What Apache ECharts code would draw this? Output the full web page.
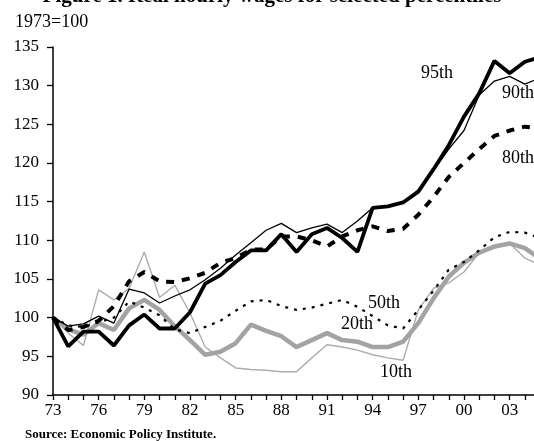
<!DOCTYPE html>
<html>
<head>
<meta charset="utf-8">
<script src="https://cdn.jsdelivr.net/npm/echarts@6/dist/echarts.min.js"></script>
<style>html,body{margin:0;padding:0;background:#fff;}#c{width:534px;height:441px;}</style>
</head>
<body>
<div id="c"></div>
<script>
var years = [1973,1974,1975,1976,1977,1978,1979,1980,1981,1982,1983,1984,1985,1986,1987,1988,1989,1990,1991,1992,1993,1994,1995,1996,1997,1998,1999,2000,2001,2002,2003,2004,2005];
var p95 = [100,96.3,98.2,98.2,96.4,99.0,100.4,98.6,98.6,100.7,104.4,105.5,107.2,108.7,108.7,110.8,108.5,110.8,111.6,110.3,108.5,114.2,114.4,114.9,116.3,119.2,122.3,126.0,129.0,133.2,131.6,133.1,133.7];
var p90 = [100,98.9,99.2,100.2,99.3,103.7,103.2,101.9,102.8,103.6,104.9,106.4,108.1,109.7,111.3,112.2,111.0,111.6,112.1,111.0,112.5,114.2,114.4,114.9,116.5,119.0,121.8,124.2,128.8,130.6,131.2,130.2,131.0];
var p80 = [100,98.4,98.8,99.6,101.5,104.7,105.9,104.7,104.6,105.1,105.8,107.1,107.7,108.8,108.8,110.5,110.5,110.0,109.2,110.5,111.3,111.8,111.2,111.5,113.3,115.6,118.2,120.0,121.8,123.5,124.2,124.7,124.5];
var p50 = [100,99.0,98.8,99.4,100.0,102.1,101.3,100.3,98.5,98.0,98.8,99.6,100.9,102.1,102.3,101.5,101.0,101.3,101.8,102.3,101.4,100.2,99.0,98.6,101.0,103.5,106.2,107.2,108.7,110.4,111.1,111.0,110.3];
var p20 = [100,98.5,97.8,99.3,98.4,101.2,102.3,101.0,98.9,97.1,95.2,95.6,96.7,99.1,98.3,97.6,96.2,97.1,98.0,97.1,96.9,96.2,96.2,96.9,99.3,102.5,105.3,107.1,108.4,109.2,109.6,109.0,107.6];
var p10 = [100,98.0,96.4,103.6,102.3,103.8,108.5,102.6,104.2,100.6,96.2,94.8,93.5,93.3,93.2,93.0,93.0,94.8,96.5,96.2,95.8,95.2,94.8,94.5,101.0,103.8,104.5,105.9,108.4,109.0,109.6,107.7,106.8];
var xTickLabels = ['73','76','79','82','85','88','91','94','97','00','03'];
var yMin = 90, yMax = 135, yStep = 5;

function pairs(v){ return years.map(function(y,i){ return [y, v[i]]; }); }
var serif = 'Liberation Serif';
var chart = echarts.init(document.getElementById('c'), null, {renderer:'canvas'});
chart.setOption({
  animation:false,
  backgroundColor:'#fff',
  grid:{left:53, right:0, top:47, bottom:46, containLabel:false},
  xAxis:{
    type:'value', min:1973, max:2004.6, interval:1,
    axisLine:{lineStyle:{color:'#000', width:1.5}},
    axisTick:{show:true, inside:false, length:5, lineStyle:{color:'#000', width:1.3}},
    splitLine:{show:false},
    axisLabel:{
      margin:7, color:'#000', fontFamily:serif, fontSize:17,
      showMaxLabel:false,
      formatter:function(v){
        var d = Math.round(v) - 1973;
        if (d % 3 !== 0) return '';
        var s = xTickLabels[d/3];
        return s === undefined ? '' : s;
      }
    }
  },
  yAxis:{
    type:'value', min:yMin, max:yMax, interval:yStep,
    axisLine:{show:true, lineStyle:{color:'#000', width:1.5}},
    axisTick:{show:true, inside:false, length:6, lineStyle:{color:'#000', width:1.3}},
    splitLine:{show:false},
    axisLabel:{margin:14, color:'#000', fontFamily:serif, fontSize:17}
  },
  series:[
    {name:'10th', type:'line', data:pairs(p10), symbol:'none', lineStyle:{color:'#adadad', width:1.4}},
    {name:'20th', type:'line', data:pairs(p20), symbol:'none', lineStyle:{color:'#a3a3a3', width:4.5}},
    {name:'50th', type:'line', data:pairs(p50), symbol:'none', lineStyle:{color:'#000', width:2.2, type:[3,6]}},
    {name:'80th', type:'line', data:pairs(p80), symbol:'none', lineStyle:{color:'#000', width:4, type:[8,8]}},
    {name:'90th', type:'line', data:pairs(p90), symbol:'none', lineStyle:{color:'#000', width:1.3}},
    {name:'95th', type:'line', data:pairs(p95), symbol:'none', lineStyle:{color:'#000', width:3.8}}
  ],
  graphic:[
    {type:'text', x:272, y:-14, style:{text:'Figure 1. Real hourly wages for selected percentiles', font:'bold 21px "Liberation Serif"', fill:'#000', textAlign:'center'}},
    {type:'text', x:15, y:13, style:{text:'1973=100', font:'18px "Liberation Serif"', fill:'#000'}},
    {type:'text', x:25, y:428, style:{text:'Source: Economic Policy Institute.', font:'bold 13px "Liberation Serif"', fill:'#000'}},
    {type:'text', x:421, y:64, style:{text:'95th', font:'18px "Liberation Serif"', fill:'#000'}},
    {type:'text', x:502, y:84, style:{text:'90th', font:'18px "Liberation Serif"', fill:'#000'}},
    {type:'text', x:502, y:149, style:{text:'80th', font:'18px "Liberation Serif"', fill:'#000'}},
    {type:'text', x:368, y:294, style:{text:'50th', font:'18px "Liberation Serif"', fill:'#000'}},
    {type:'text', x:341, y:315, style:{text:'20th', font:'18px "Liberation Serif"', fill:'#000'}},
    {type:'text', x:380, y:363, style:{text:'10th', font:'18px "Liberation Serif"', fill:'#000'}}
  ]
});
</script>
</body>
</html>
